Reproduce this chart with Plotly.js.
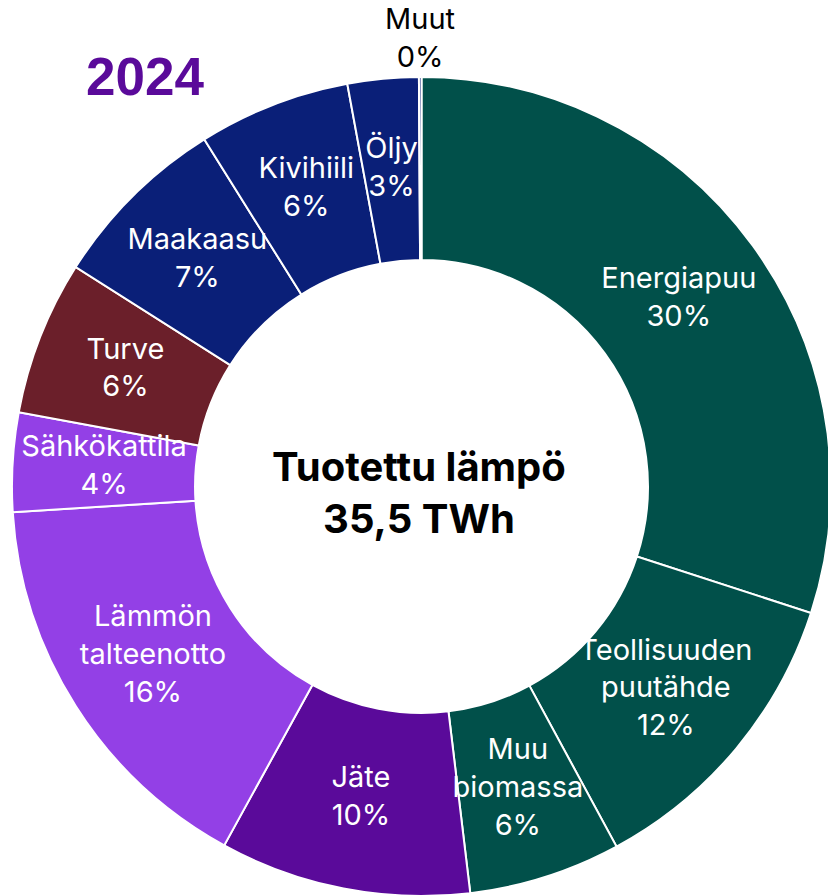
<!DOCTYPE html>
<html>
<head>
<meta charset="utf-8">
<script src="https://cdn.plot.ly/plotly-3.0.1.min.js"></script>
<style>
html,body{margin:0;padding:0;overflow:hidden;background:#fff;width:828px;height:895px;}
#chart{position:absolute;left:-40px;top:0;width:940px;height:1000px;}
</style>
</head>
<body>
<div id="chart"></div>
<script>
// Data
const categories = ["Energiapuu","Teollisuuden<br>puutähde","Muu<br>biomassa","Jäte","Lämmön<br>talteenotto","Sähkökattila","Turve","Maakaasu","Kivihiili","Öljy","Muut"];
const shares = [30.0, 12.1, 6.0, 9.9, 16.0, 3.9, 6.1, 7.1, 6.0, 2.8, 0.1];
const colors = ["#01504A","#01504A","#01504A","#5A0A9A","#9340E6","#9340E6","#6B1F2A","#0A1F78","#0A1F78","#0A1F78","#0A1F78"];
const yearLabel = "2024";
const centerLabel = "Tuotettu lämpö<br>35,5 TWh";

const HOLE = 0.553;      // inner radius / outer radius
const RMAX = 1.1;        // radial range headroom for outside label
const total = shares.reduce((a,b)=>a+b,0);
let cum = 0;
const mid = [], span = [];
shares.forEach(v => { span.push(v/total*360); mid.push((cum + v/2)/total*360); cum += v; });
const pctText = shares.map((v,i) => categories[i] + "<br>" + Math.round(v/total*100) + "%");
const isOutside = shares.map(v => v/total < 0.005);
const textR = isOutside.map(o => o ? 1.089 : (1+HOLE)/2);
const textColors = isOutside.map(o => o ? "#000000" : "#ffffff");

const ring = {
  type: "barpolar",
  theta: mid,
  width: span,
  r: shares.map(() => 1 - HOLE),
  base: shares.map(() => HOLE),
  marker: {color: colors, line: {color: "#ffffff", width: 2}},
  hoverinfo: "skip",
  showlegend: false
};
const labels = {
  type: "scatterpolar",
  mode: "text",
  theta: mid,
  r: textR,
  text: pctText,
  textposition: "middle center",
  textfont: {family: "Inter, 'Noto Sans', sans-serif", size: 29, color: textColors},
  cliponaxis: false,
  hoverinfo: "skip",
  showlegend: false
};

// plot area (page px): x -29..872, y 36..937  (901 px square, center 421.5/486.5)
const W = 901, X0 = -29, Y1 = 937;
const layout = {
  width: 940, height: 1000,
  margin: {l: 11, r: 28, t: 36, b: 63},
  paper_bgcolor: "#ffffff",
  showlegend: false,
  polar: {
    bgcolor: "rgba(0,0,0,0)",
    bargap: 0,
    domain: {x: [0,1], y: [0,1]},
    radialaxis: {visible: false, range: [0,RMAX], showgrid: false, showline: false, showticklabels: false, ticks: ""},
    angularaxis: {visible: false, rotation: 90, direction: "clockwise", showgrid: false, showline: false, showticklabels: false, ticks: ""}
  },
  annotations: [
    {text: centerLabel, xref: "paper", yref: "paper", x: 0.5, y: 0.5, xanchor: "center", yanchor: "middle", xshift: -3, yshift: -6, showarrow: false,
     font: {family: "Inter, 'Noto Sans', sans-serif", size: 40, color: "#000000", weight: "bold"}},
    {text: "<b>" + yearLabel + "</b>", xref: "paper", yref: "paper", x: (84 - X0)/W, y: (Y1 - 77)/W, xanchor: "left", yanchor: "middle", showarrow: false,
     font: {family: "'Liberation Sans', Arial, sans-serif", size: 53, color: "#5A0A9A"}}
  ]
};

Plotly.newPlot("chart", [ring, labels], layout, {displayModeBar: false, staticPlot: true});
</script>
</body>
</html>
